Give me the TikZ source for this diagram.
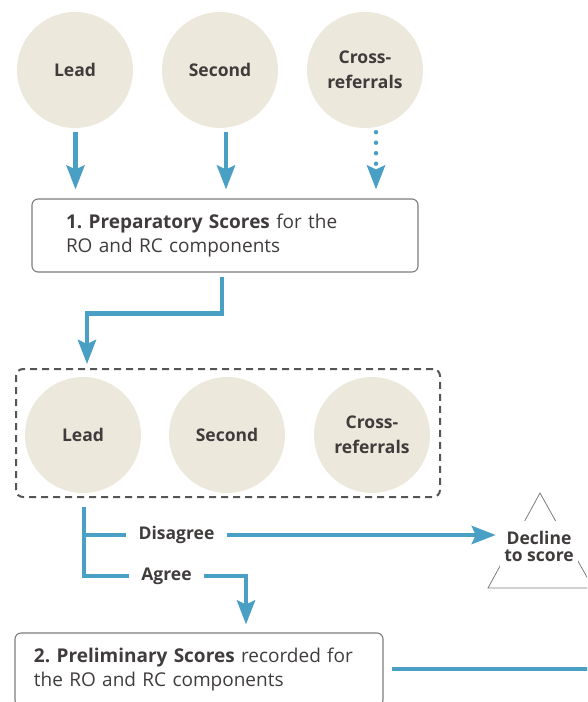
\documentclass[tikz,border=0pt]{standalone}
\usepackage{fontspec}
\setmainfont{Open Sans}
\frenchspacing
\usetikzlibrary{arrows.meta}
\definecolor{flowblue}{RGB}{74,160,196}
\definecolor{beige}{RGB}{237,232,220}
\definecolor{txt}{RGB}{64,60,60}
\definecolor{boxgray}{RGB}{125,125,125}
\definecolor{dashgray}{RGB}{85,85,85}
\begin{document}
\begin{tikzpicture}[x=1pt,y=-1pt,
  circ/.style={circle,fill=beige,minimum size=116pt,inner sep=0pt,text=txt,
    font=\fontsize{17.5}{25}\selectfont\bfseries,align=center},
  tip/.style={-{Stealth[length=24pt,width=18pt,inset=4pt]}},
  flowline/.style={draw=flowblue,line width=4.5pt},
  flow/.style={flowline,tip},
  stepbox/.style={draw=boxgray,line width=1.1pt,rounded corners=6pt,text=txt,
    font=\fontsize{19}{24.5}\selectfont,align=left,minimum height=73pt},
  lbl/.style={text=txt,font=\fontsize{17.5}{25}\selectfont\bfseries,inner xsep=12pt,inner ysep=2pt}
]
\useasboundingbox (0,0) rectangle (587,702);
\clip (0,0) rectangle (587,702);

% top row
\node[circ] (L1) at (75,70) {Lead};
\node[circ] (S1) at (220,70) {Second};
\node[circ] (C1) at (365,70) {Cross-\\referrals};

\node[stepbox,inner xsep=34pt,text width=318pt] (box1) at (225,235.5)
  {\textbf{1. Preparatory Scores} for the\\RO and RC components};

\draw[flow] ([xshift=0.5pt,yshift=-4pt]L1.south) -- ([xshift=0.5pt,yshift=9pt]L1.south |- box1.north);
\draw[flow] ([xshift=6pt,yshift=-4pt]S1.south) -- ([xshift=6pt,yshift=9pt]S1.south |- box1.north);
\draw[flow,line cap=round,dash pattern=on 0pt off 10.5pt] ([xshift=11pt,yshift=-4pt]C1.south) -- ([xshift=11pt,yshift=9pt]C1.south |- box1.north);

% group
\node[draw=dashgray,line width=2pt,dash pattern=on 7pt off 5pt,rounded corners=7pt,
  minimum width=424pt,minimum height=128pt,inner sep=0pt] (grp) at (228,433) {};
\node[circ] (L2) at (83,435) {Lead};
\node[circ] (S2) at (227,435) {Second};
\node[circ] (C2) at (372,435) {Cross-\\referrals};

\draw[flow] ([xshift=-3pt,yshift=-4pt]box1.south) -- ++(0,37) -| ([xshift=4pt,yshift=4pt]L2.north |- grp.north);

% decision
\coordinate (br) at (84,507);
\node[lbl] (dis) at (176.5,535) {Disagree};
\node[lbl] (agr) at (166.5,576) {Agree};
\draw[flowline] (br) |- (agr.west);
\draw[flowline] (br |- dis.west) -- (dis.west);

\draw[boxgray,line width=0.8pt] (540,493) -- (488,588) -- (593,588) -- cycle;
\node[text=txt,fill=white,minimum width=78pt,minimum height=51pt,inner sep=0pt,align=center,
  font=\fontsize{17.5}{17}\selectfont\bfseries] (decl) at (539,546) {Decline\\to score};

\draw[flow,shorten >=4pt] (dis.east) -- (dis.east -| decl.west);

% box 2
\node[stepbox,inner xsep=19pt,text width=330pt] (box2) at (199,669.5)
  {\textbf{2. Preliminary Scores} recorded for\\the RO and RC components};

\draw[flow,shorten >=8pt] (agr.east) -| ([xshift=47pt]box2.north);

\coordinate (rend) at (590,669);
\draw[flowline] ([xshift=8pt]box2.east |- rend) -- (rend);
\end{tikzpicture}
\end{document}
